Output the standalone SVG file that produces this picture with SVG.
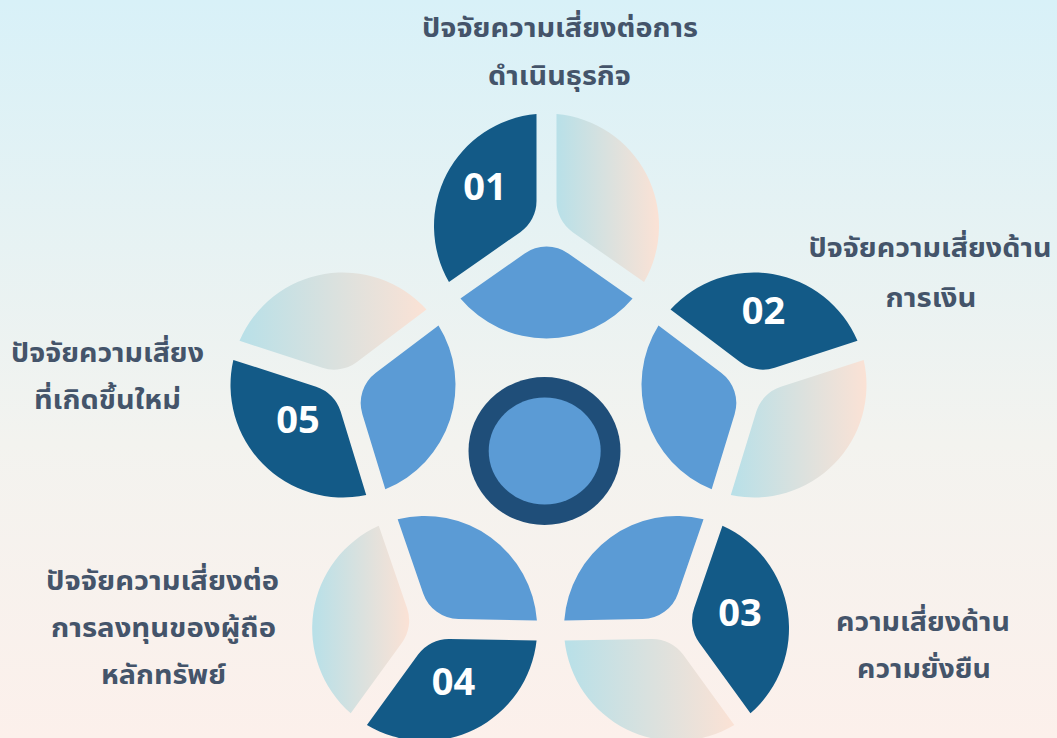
<svg xmlns="http://www.w3.org/2000/svg" width="1057" height="738" viewBox="0 0 1057 738">
<style>
.bg{fill:url(#bgGrad)}
.pl{fill:#5b9bd5}
.pd{fill:#135a87}
.s0{stop-color:#b8e0e8}
.s1{stop-color:#fbe2d5}
.num{font-family:"Open Sans","Noto Sans",sans-serif;font-weight:700;font-size:38px;fill:#ffffff;text-anchor:middle}
.lbl{font-family:"Noto Sans","Noto Sans Thai","DejaVu Sans",sans-serif;font-weight:700;font-size:26px;fill:#44546a;text-anchor:middle}
</style>
<defs>
<linearGradient id="bgGrad" x1="0" y1="0" x2="0" y2="1">
<stop offset="0" stop-color="#d8f1f8"/>
<stop offset="0.6" stop-color="#f3f3ef"/>
<stop offset="1" stop-color="#fcf0eb"/>
</linearGradient>
<linearGradient id="g0" gradientUnits="userSpaceOnUse" x1="10" y1="0" x2="112.5" y2="0"><stop offset="0" class="s0"/><stop offset="1" class="s1"/></linearGradient>
<linearGradient id="g1" gradientUnits="userSpaceOnUse" x1="-7.17" y1="22.06" x2="34.76" y2="-107"><stop offset="0" class="s0"/><stop offset="1" class="s1"/></linearGradient>
<linearGradient id="g2" gradientUnits="userSpaceOnUse" x1="90.53" y1="65.77" x2="-46.76" y2="-33.97"><stop offset="0" class="s0"/><stop offset="1" class="s1"/></linearGradient>
<linearGradient id="g3" gradientUnits="userSpaceOnUse" x1="91.01" y1="-66.13" x2="12.54" y2="-9.11"><stop offset="0" class="s0"/><stop offset="1" class="s1"/></linearGradient>
<linearGradient id="g4" gradientUnits="userSpaceOnUse" x1="-31.98" y1="-98.44" x2="25.8" y2="79.41"><stop offset="0" class="s0"/><stop offset="1" class="s1"/></linearGradient>
<path id="petL" d="M21.8 27.47L86.05 72.46A112.5 112.5 0 0 1 -86.05 72.46L-21.8 27.47A38 38 0 0 1 21.8 27.47Z"/>
<path id="petD" d="M-26.2 6.14L-97.53 56.08A112.5 112.5 0 0 1 -10 -112.06L-10 -24.99A38 38 0 0 1 -26.2 6.14Z"/>
<path id="petG" d="M10 -24.99L10 -112.06A112.5 112.5 0 0 1 97.53 56.08L26.2 6.14A38 38 0 0 1 10 -24.99Z"/>
</defs>
<rect class="bg" x="0" y="0" width="1057" height="738"/>
<g id="connectors"></g>
<g id="center">
<ellipse cx="544.5" cy="451" rx="76" ry="74" fill="#1f4e79"/>
<ellipse cx="544.7" cy="451" rx="56" ry="53.5" fill="#5b9bd5"/>
</g>
<g id="node1">
<g transform="translate(546.5 226)">
<use href="#petL" class="pl"/><use href="#petD" class="pd"/><use href="#petG" fill="url(#g0)"/>
</g>
<text class="num" x="485" y="200">01</text>
<text class="lbl" x="560" y="37" textLength="276" lengthAdjust="spacingAndGlyphs">ปัจจัยความเสี่ยงต่อการ</text>
<text class="lbl" x="559.5" y="85" textLength="143" lengthAdjust="spacingAndGlyphs">ดำเนินธุรกิจ</text>
</g>
<g id="node2">
<g transform="translate(754 385) rotate(72)">
<use href="#petL" class="pl"/><use href="#petD" class="pd"/><use href="#petG" fill="url(#g1)"/>
</g>
<text class="num" x="763.5" y="324">02</text>
<text class="lbl" x="930" y="257" textLength="243" lengthAdjust="spacingAndGlyphs">ปัจจัยความเสี่ยงด้าน</text>
<text class="lbl" x="931" y="307" textLength="91" lengthAdjust="spacingAndGlyphs">การเงิน</text>
</g>
<g id="node3">
<g transform="translate(676.5 628.5) rotate(144)">
<use href="#petL" class="pl"/><use href="#petD" class="pd"/><use href="#petG" fill="url(#g2)"/>
</g>
<text class="num" x="740" y="626">03</text>
<text class="lbl" x="923" y="631" textLength="174" lengthAdjust="spacingAndGlyphs">ความเสี่ยงด้าน</text>
<text class="lbl" x="924" y="678" textLength="134" lengthAdjust="spacingAndGlyphs">ความยั่งยืน</text>
</g>
<g id="node4">
<g transform="translate(424.7 628.5) rotate(216)">
<use href="#petL" class="pl"/><use href="#petD" class="pd"/><use href="#petG" fill="url(#g3)"/>
</g>
<text class="num" x="453.5" y="695">04</text>
<text class="lbl" x="162.5" y="590" textLength="233" lengthAdjust="spacingAndGlyphs">ปัจจัยความเสี่ยงต่อ</text>
<text class="lbl" x="163.5" y="637" textLength="225" lengthAdjust="spacingAndGlyphs">การลงทุนของผู้ถือ</text>
<text class="lbl" x="163.5" y="684" textLength="125" lengthAdjust="spacingAndGlyphs">หลักทรัพย์</text>
</g>
<g id="node5">
<g transform="translate(343 385) rotate(288)">
<use href="#petL" class="pl"/><use href="#petD" class="pd"/><use href="#petG" fill="url(#g4)"/>
</g>
<text class="num" x="298" y="433">05</text>
<text class="lbl" x="107.5" y="362" textLength="193" lengthAdjust="spacingAndGlyphs">ปัจจัยความเสี่ยง</text>
<text class="lbl" x="107.5" y="409" textLength="147" lengthAdjust="spacingAndGlyphs">ที่เกิดขึ้นใหม่</text>
</g>
</svg>
